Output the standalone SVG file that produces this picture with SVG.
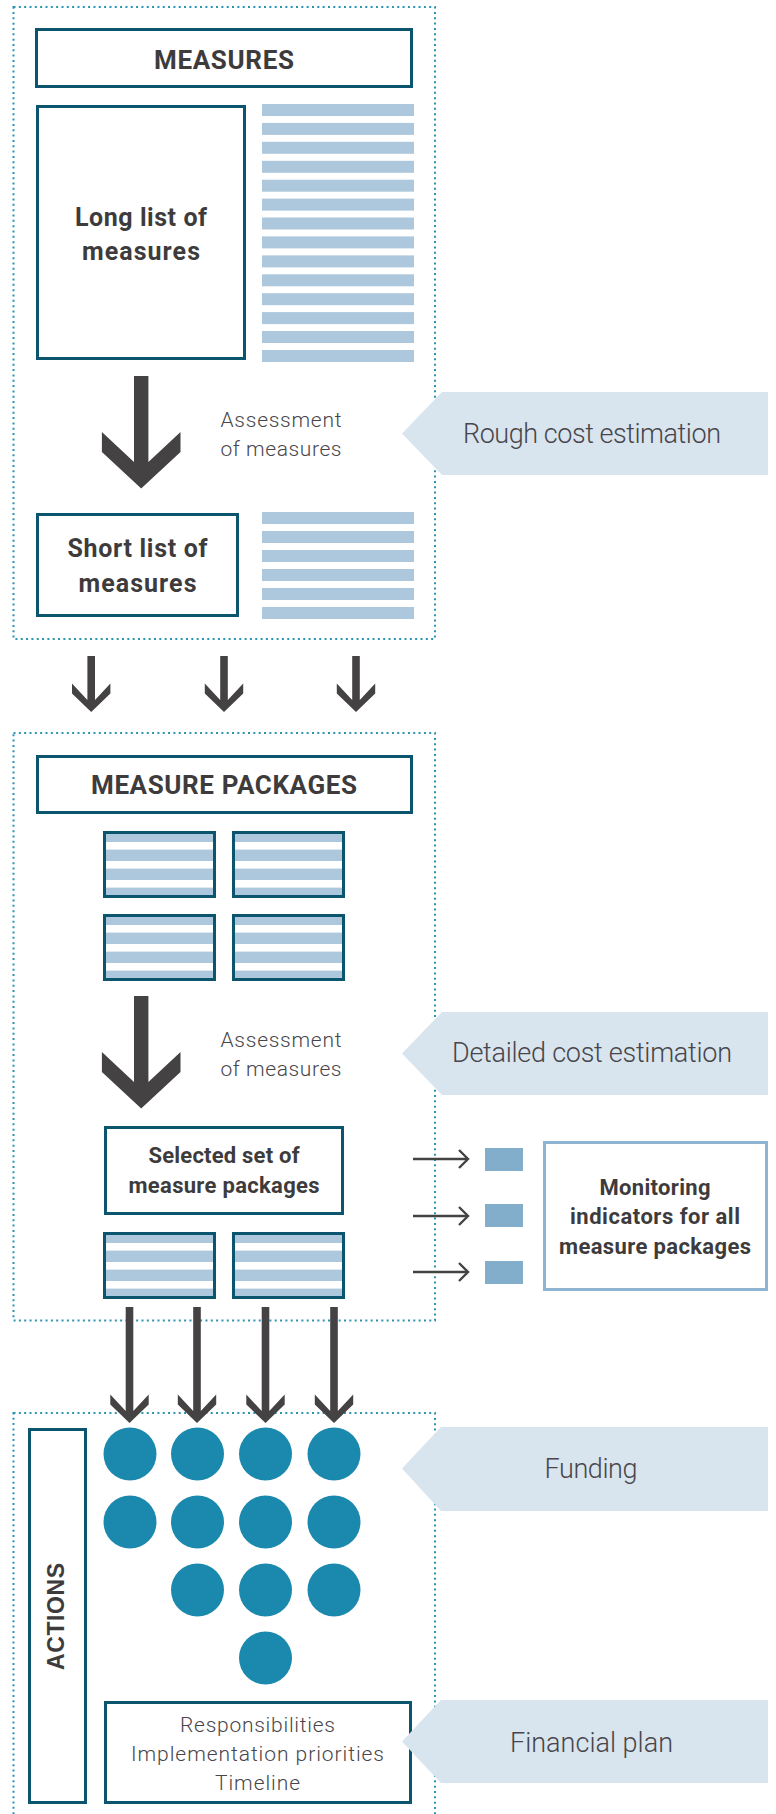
<svg xmlns="http://www.w3.org/2000/svg" xmlns:xlink="http://www.w3.org/1999/xlink" width="776" height="1814" viewBox="0 0 776 1814">
<style>
.frame{fill:none;stroke:#2b93b4;stroke-width:2;stroke-dasharray:2 3.33}
.box{fill:#fff;stroke:#0b566e;stroke-width:3}
.stripe{fill:#adc8dc}
.panel{fill:#d8e4ee}
.arrow{fill:#454243}
.line{fill:none;stroke:#454243;stroke-width:2.4}
.dot{fill:#1b89ad}
.sq{fill:#82adcb}
.b{font-family:Roboto,"Liberation Sans",sans-serif;font-weight:700;fill:#3e3b3c;text-anchor:middle}
.l{font-family:Roboto,"Liberation Sans",sans-serif;font-weight:300;fill:#48464a;text-anchor:middle}
</style>
<defs>
<marker id="chev" markerUnits="userSpaceOnUse" markerWidth="14" markerHeight="22" refX="10" refY="10" orient="auto">
<path d="M1,1 L10,10 L1,19" fill="none" stroke="#454243" stroke-width="2.4"/>
</marker>
<g id="pkg">
<rect x="1.5" y="1.5" width="110" height="64" fill="#adc8dc"/>
<rect x="3" y="11" width="107" height="7.6" fill="#fff"/>
<rect x="3" y="30" width="107" height="7.6" fill="#fff"/>
<rect x="3" y="49" width="107" height="7.6" fill="#fff"/>
<rect x="1.5" y="1.5" width="110" height="64" fill="none" stroke="#0b566e" stroke-width="3"/>
</g>
</defs>
<rect width="776" height="1814" fill="#fff"/>

<g id="frames">
<rect class="frame" x="13.5" y="7" width="421.5" height="632"/>
<rect class="frame" x="13.5" y="733" width="421.5" height="587.5"/>
<rect class="frame" x="13.5" y="1413" width="421.5" height="440"/>
</g>

<g id="connectors">
<path class="arrow" d="M134,376 H148.4 V462 L180.5,432 V452 L141.2,488.5 L101.9,452 V432 L134,462 Z"/>
<path class="arrow" d="M134,996 H148.4 V1082 L180.5,1052 V1072 L141.2,1108.5 L101.9,1072 V1052 L134,1082 Z"/>
<path class="arrow" d="M87.4,656 H95 V700 L110.4,683.5 V693.5 L91.2,712 L72,693.5 V683.5 L87.4,700 Z"/>
<path class="arrow" d="M220.2,656 H227.8 V700 L243.2,683.5 V693.5 L224,712 L204.8,693.5 V683.5 L220.2,700 Z"/>
<path class="arrow" d="M352.2,656 H359.8 V700 L375.2,683.5 V693.5 L356,712 L336.8,693.5 V683.5 L352.2,700 Z"/>
<path class="arrow" d="M125.7,1307 H133.3 V1411 L148.7,1394.5 V1404.5 L129.5,1423 L110.3,1404.5 V1394.5 L125.7,1411 Z"/>
<path class="arrow" d="M193.2,1307 H200.8 V1411 L216.2,1394.5 V1404.5 L197,1423 L177.8,1404.5 V1394.5 L193.2,1411 Z"/>
<path class="arrow" d="M261.7,1307 H269.3 V1411 L284.7,1394.5 V1404.5 L265.5,1423 L246.3,1404.5 V1394.5 L261.7,1411 Z"/>
<path class="arrow" d="M330.2,1307 H337.8 V1411 L353.2,1394.5 V1404.5 L334,1423 L314.8,1404.5 V1394.5 L330.2,1411 Z"/>
<line class="line" x1="413" y1="1159" x2="468" y2="1159" marker-end="url(#chev)"/>
<line class="line" x1="413" y1="1216" x2="468" y2="1216" marker-end="url(#chev)"/>
<line class="line" x1="413" y1="1272" x2="468" y2="1272" marker-end="url(#chev)"/>
</g>

<g id="measures-title">
<rect class="box" x="36.5" y="29.5" width="375" height="57"/>
<text class="b" x="224" y="69" font-size="26" textLength="140">MEASURES</text>
</g>

<g id="long-list">
<rect class="box" x="37.5" y="106.5" width="207" height="252"/>
<text class="b" x="141" y="226" font-size="25" textLength="132">Long list of</text>
<text class="b" x="141" y="260" font-size="25" textLength="118">measures</text>
</g>

<g id="long-list-stripes">
<rect class="stripe" x="262" y="104" width="152" height="12"/>
<rect class="stripe" x="262" y="122.9" width="152" height="12"/>
<rect class="stripe" x="262" y="141.8" width="152" height="12"/>
<rect class="stripe" x="262" y="160.8" width="152" height="12"/>
<rect class="stripe" x="262" y="179.7" width="152" height="12"/>
<rect class="stripe" x="262" y="198.6" width="152" height="12"/>
<rect class="stripe" x="262" y="217.5" width="152" height="12"/>
<rect class="stripe" x="262" y="236.4" width="152" height="12"/>
<rect class="stripe" x="262" y="255.4" width="152" height="12"/>
<rect class="stripe" x="262" y="274.3" width="152" height="12"/>
<rect class="stripe" x="262" y="293.2" width="152" height="12"/>
<rect class="stripe" x="262" y="312.1" width="152" height="12"/>
<rect class="stripe" x="262" y="331" width="152" height="12"/>
<rect class="stripe" x="262" y="350" width="152" height="12"/>
</g>

<g id="assessment-1">
<text class="l" x="281" y="427" font-size="21" textLength="121">Assessment</text>
<text class="l" x="281" y="456" font-size="21" textLength="121">of measures</text>
</g>

<g id="rough-cost">
<polygon class="panel" points="402,433.5 442,392 768,392 768,475 442,475"/>
<text class="l" x="592" y="443" font-size="27" textLength="258">Rough cost estimation</text>
</g>

<g id="short-list">
<rect class="box" x="37.5" y="514.5" width="200" height="101"/>
<text class="b" x="137.5" y="557" font-size="25" textLength="140">Short list of</text>
<text class="b" x="137.5" y="592" font-size="25" textLength="118">measures</text>
</g>

<g id="short-list-stripes">
<rect class="stripe" x="262" y="512" width="152" height="12"/>
<rect class="stripe" x="262" y="531" width="152" height="12"/>
<rect class="stripe" x="262" y="550" width="152" height="12"/>
<rect class="stripe" x="262" y="569" width="152" height="12"/>
<rect class="stripe" x="262" y="588" width="152" height="12"/>
<rect class="stripe" x="262" y="607" width="152" height="12"/>
</g>

<g id="measure-packages-title">
<rect class="box" x="37.5" y="756.5" width="374" height="56"/>
<text class="b" x="224" y="794" font-size="26" textLength="266">MEASURE PACKAGES</text>
</g>

<g id="packages">
<use xlink:href="#pkg" x="103" y="831"/>
<use xlink:href="#pkg" x="232" y="831"/>
<use xlink:href="#pkg" x="103" y="914"/>
<use xlink:href="#pkg" x="232" y="914"/>
</g>

<g id="assessment-2">
<text class="l" x="281" y="1047" font-size="21" textLength="121">Assessment</text>
<text class="l" x="281" y="1076" font-size="21" textLength="121">of measures</text>
</g>

<g id="detailed-cost">
<polygon class="panel" points="402,1053.5 442,1012 768,1012 768,1095 442,1095"/>
<text class="l" x="592" y="1062" font-size="27" textLength="280">Detailed cost estimation</text>
</g>

<g id="selected-set">
<rect class="box" x="105.5" y="1127.5" width="237" height="86"/>
<text class="b" x="224" y="1163" font-size="22" textLength="151">Selected set of</text>
<text class="b" x="224" y="1193" font-size="22" textLength="191">measure packages</text>
</g>

<g id="selected-packages">
<use xlink:href="#pkg" x="103" y="1232"/>
<use xlink:href="#pkg" x="232" y="1232"/>
</g>

<g id="indicator-squares">
<rect class="sq" x="485" y="1148" width="38" height="23"/>
<rect class="sq" x="485" y="1204" width="38" height="23"/>
<rect class="sq" x="485" y="1261" width="38" height="23"/>
</g>

<g id="monitoring">
<rect x="544.5" y="1142.5" width="222" height="147" fill="#fff" stroke="#8db5d2" stroke-width="3"/>
<text class="b" x="655" y="1195" font-size="22" textLength="111">Monitoring</text>
<text class="b" x="655" y="1224" font-size="22" textLength="170">indicators for all</text>
<text class="b" x="655" y="1254" font-size="22" textLength="192">measure packages</text>
</g>

<g id="actions">
<rect class="box" x="29.5" y="1429.5" width="56" height="373"/>
<text transform="translate(64,1616.5) rotate(-90)" font-family="'Liberation Sans',Arial,sans-serif" font-weight="700" font-size="23" fill="#3e3b3c" text-anchor="middle" textLength="107">ACTIONS</text>
</g>

<g id="action-dots">
<circle class="dot" cx="130" cy="1454" r="26.5"/>
<circle class="dot" cx="197.5" cy="1454" r="26.5"/>
<circle class="dot" cx="265.5" cy="1454" r="26.5"/>
<circle class="dot" cx="334" cy="1454" r="26.5"/>
<circle class="dot" cx="130" cy="1522" r="26.5"/>
<circle class="dot" cx="197.5" cy="1522" r="26.5"/>
<circle class="dot" cx="265.5" cy="1522" r="26.5"/>
<circle class="dot" cx="334" cy="1522" r="26.5"/>
<circle class="dot" cx="197.5" cy="1590" r="26.5"/>
<circle class="dot" cx="265.5" cy="1590" r="26.5"/>
<circle class="dot" cx="334" cy="1590" r="26.5"/>
<circle class="dot" cx="265.5" cy="1658" r="26.5"/>
</g>

<g id="funding">
<polygon class="panel" points="402,1468.5 441,1427 768,1427 768,1511 441,1511"/>
<text class="l" x="591" y="1478" font-size="27" textLength="93">Funding</text>
</g>

<g id="plan-box">
<rect class="box" x="105.5" y="1702.5" width="305" height="100"/>
<text class="l" x="257.5" y="1732" font-size="21" textLength="155">Responsibilities</text>
<text class="l" x="257.5" y="1761" font-size="21" textLength="253">Implementation priorities</text>
<text class="l" x="257.5" y="1790" font-size="21" textLength="85">Timeline</text>
</g>

<g id="financial-plan">
<polygon class="panel" points="402,1741.5 441,1700 768,1700 768,1783 441,1783"/>
<text class="l" x="591.5" y="1752" font-size="27" textLength="163">Financial plan</text>
</g>
</svg>
